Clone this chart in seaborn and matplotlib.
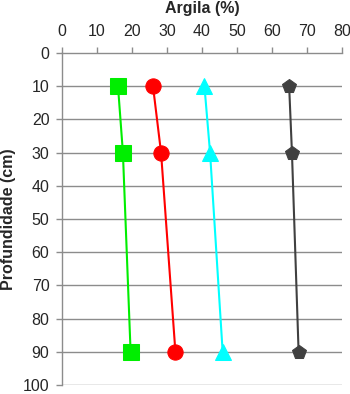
import matplotlib
matplotlib.use("Agg")
import matplotlib.pyplot as plt
import seaborn as sns
import pandas as pd

sns.set_style("white")
plt.rcParams["font.family"] = ["Liberation Sans", "DejaVu Sans"]

depth = [10, 30, 90]
serie_a = [16.0, 17.4, 19.6]   # verde, quadrados
serie_b = [26.0, 28.3, 32.4]   # vermelho, círculos
serie_c = [40.7, 42.3, 45.9]   # ciano, triângulos
serie_d = [64.9, 65.7, 67.6]   # cinza escuro, pentágonos

x_ticks = [0, 10, 20, 30, 40, 50, 60, 70, 80]
y_ticks = [0, 10, 20, 30, 40, 50, 60, 70, 80, 90, 100]

series = [
    ("A", serie_a, "#00ee00", "s", 11),
    ("B", serie_b, "#ff0000", "o", 11),
    ("C", serie_c, "#00ffff", "^", 11),
    ("D", serie_d, "#404040", "p", 10.5),
]

rows = []
for name, vals, *_ in series:
    for d, v in zip(depth, vals):
        rows.append({"serie": name, "argila": v, "prof": d})
df = pd.DataFrame(rows)

fig = plt.figure(figsize=(3.5, 3.94), dpi=100)
ax = fig.add_axes([62 / 350, 1 - 385 / 394, 280 / 350, 332 / 394])

for y in y_ticks[1:]:
    ax.axhline(y, color="#8c8c8c", lw=1.0, zorder=0)

for name, vals, color, marker, ms in series:
    sub = df[df["serie"] == name]
    sns.lineplot(data=sub, x="argila", y="prof", ax=ax, color=color, lw=1.5,
                 marker=marker, markersize=ms, markeredgecolor=color,
                 sort=False, estimator=None, legend=False, zorder=3)

ax.set_xlim(0, 80)
ax.set_ylim(100, 0)
ax.set_xticks(x_ticks)
ax.set_yticks(y_ticks)
ax.xaxis.tick_top()
ax.xaxis.set_label_position("top")
ax.set_xlabel("Argila (%)", fontsize=11.5, fontweight="bold", labelpad=8)
ax.set_ylabel("Profundidade (cm)", fontsize=11.5, fontweight="bold", labelpad=5)
ax.tick_params(axis="both", labelsize=11.5, direction="out", length=4,
               color="#8c8c8c", width=1.0, pad=5)
ax.tick_params(axis="x", top=True, bottom=False, pad=6)
ax.tick_params(axis="y", left=True)

for side in ["right", "bottom"]:
    ax.spines[side].set_visible(False)
for side in ["top", "left"]:
    ax.spines[side].set_color("#8c8c8c")
    ax.spines[side].set_linewidth(1.0)

fig.savefig("out.png", dpi=100)
